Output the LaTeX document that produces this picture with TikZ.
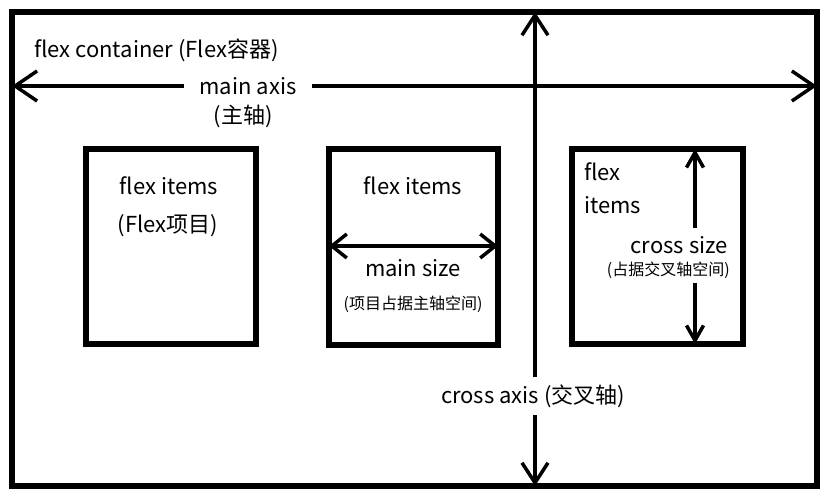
\documentclass[tikz,border=0pt]{standalone}
\usepackage{fontspec}
\setmainfont{Noto Sans CJK SC}
\usetikzlibrary{arrows.meta}
\tikzset{
  outerbox/.style={draw=black,line width=6bp},
  itembox/.style={draw=black,line width=5.5bp},
  axisline/.style={line width=3.5bp,{Straight Barb[length=22bp,width=30bp,line width=3.5bp]}-{Straight Barb[length=22bp,width=30bp,line width=3.5bp]}},
  sizeline/.style={line width=3.5bp,{Straight Barb[length=15bp,width=24bp,line width=3.5bp]}-{Straight Barb[length=15bp,width=24bp,line width=3.5bp]}},
  txt/.style={font=\fontsize{22bp}{26bp}\selectfont,inner sep=0pt},
  smalltxt/.style={font=\fontsize{16bp}{19bp}\selectfont,inner sep=0pt},
}
\begin{document}
\begin{tikzpicture}[x=1bp,y=-1bp]
\useasboundingbox (0,0) rectangle (834,494);
% outer container
\node[outerbox,minimum width=805bp,minimum height=474bp,inner sep=0pt] (cont) at (414.5,249) {};
% item boxes
\node[itembox,minimum width=170bp,minimum height=195bp,inner sep=0pt] (box1) at (171,246.5) {};
\node[itembox,minimum width=169bp,minimum height=196bp,inner sep=0pt] (box2) at (413.5,247) {};
\node[itembox,minimum width=171bp,minimum height=195bp,inner sep=0pt] (box3) at (657.5,246.5) {};
% axis end coordinates
\coordinate (mainL) at (12,86);
\coordinate (mainR) at (817,86);
\coordinate (crossT) at (535,12);
\coordinate (crossB) at (535,486);
\coordinate (msL) at (329,246);
\coordinate (msR) at (498,246);
\coordinate (csT) at (695,149);
\coordinate (csB) at (695,344);
% axes
\draw[axisline] (mainL) -- (mainR);
\draw[axisline,{Straight Barb[length=20bp,width=26bp,line width=3.5bp]}-{Straight Barb[length=20bp,width=26bp,line width=3.5bp]}] (crossT) -- (crossB);
\draw[sizeline] (msL) -- (msR);
\draw[sizeline,{Straight Barb[length=15bp,width=17bp,line width=3.5bp]}-{Straight Barb[length=15bp,width=17bp,line width=3.5bp]}] (csT) -- (csB);
% gap in the cross size arrow
\fill[white] (688,228) rectangle (702,283);
% labels
\node[txt,anchor=west] (contlbl) at (34,50) {flex container (Flex容器)};
\node[txt,fill=white,inner xsep=16bp,inner ysep=4bp] (mainlbl) at (248,86) {main axis};
\node[txt] (mainzh) at (243,116) {(主轴)};
\node[txt,fill=white,inner xsep=6bp,inner ysep=8bp] (crosslbl) at (533,396) {cross axis (交叉轴)};
\node[txt] (b1a) at (169,186) {flex items};
\node[txt] (b1b) at (168,226) {(Flex项目)};
\node[txt] (b2a) at (413,186) {flex items};
\node[txt] (b2b) at (413,268) {main size};
\node[smalltxt] (b2c) at (413,304) {(项目占据主轴空间)};
\node[txt,anchor=west] (b3a) at (584,172) {flex};
\node[txt,anchor=west] (b3b) at (584,205) {items};
\node[txt,anchor=east] (cslbl) at (728,245) {cross size};
\node[smalltxt,anchor=east] (cszh) at (730,270) {(占据交叉轴空间)};
\end{tikzpicture}
\end{document}
